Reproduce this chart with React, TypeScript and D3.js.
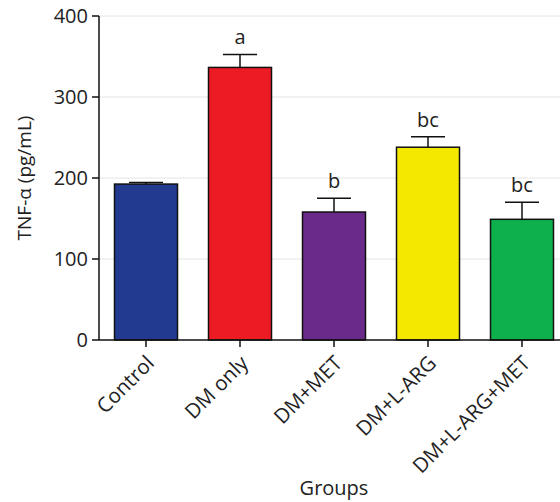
import React from "react";
import * as d3 from "d3";

const categories = ["Control", "DM only", "DM+MET", "DM+L-ARG", "DM+L-ARG+MET"];
const means = [192.5, 336.5, 158, 238, 149];
const errors = [2, 16, 17, 13, 21];
const letters = ["", "a", "b", "bc", "bc"];
const colors = ["#233a91", "#ed1c24", "#6a2a8a", "#f5e800", "#0db04b"];
const yTicks = [0, 100, 200, 300, 400];

const W = 560;
const H = 502;
const left = 99;
const right = 569;
const top = 16;
const bottom = 340;
const font = "'Open Sans', 'Noto Sans', sans-serif";

export default function App() {
  const x = d3.scalePoint<string>().domain(categories).range([left, right]).padding(0.5);
  const y = d3.scaleLinear().domain([0, 400]).range([bottom, top]);
  const bw = 63;
  const capW = 34;
  return (
    <svg width={W} height={H} style={{ position: "absolute", left: 0, top: 0 }} fontFamily={font}>
      {yTicks.slice(1).map((t) => (
        <line key={"g" + t} x1={left} x2={W} y1={y(t)} y2={y(t)} stroke="#e4e4e4" strokeWidth={1} />
      ))}
      {categories.map((c, i) => {
        const cx = x(c)!;
        const yt = y(means[i]);
        const ye = y(means[i] + errors[i]);
        return (
          <g key={c}>
            <line x1={cx} x2={cx} y1={yt} y2={ye} stroke="#111" strokeWidth={1.5} />
            <line x1={cx - capW / 2} x2={cx + capW / 2} y1={ye} y2={ye} stroke="#111" strokeWidth={1.5} />
            <rect x={cx - bw / 2} y={yt} width={bw} height={bottom - yt} fill={colors[i]} stroke="#111" strokeWidth={1.5} />
            {letters[i] && (
              <text x={cx} y={ye - 10} textAnchor="middle" fontSize={20} fill="#222">
                {letters[i]}
              </text>
            )}
          </g>
        );
      })}
      <line x1={left} x2={left} y1={top} y2={bottom} stroke="#111" strokeWidth={1.5} />
      <line x1={left} x2={W} y1={bottom} y2={bottom} stroke="#111" strokeWidth={1.5} />
      {yTicks.map((t) => (
        <g key={"t" + t}>
          <line x1={left - 7} x2={left} y1={y(t)} y2={y(t)} stroke="#111" strokeWidth={1.5} />
          <text x={left - 11} y={y(t)} dy="0.36em" textAnchor="end" fontSize={20} fill="#222">
            {t}
          </text>
        </g>
      ))}
      {categories.map((c) => {
        const cx = x(c)!;
        return (
          <g key={"x" + c}>
            <line x1={cx} x2={cx} y1={bottom} y2={bottom + 7} stroke="#111" strokeWidth={1.5} />
            <text
              transform={`translate(${cx - 1},${bottom + 14}) rotate(-45)`}
              textAnchor="end"
              dy="0.72em"
              fontSize={20.5}
              fill="#222"
            >
              {c}
            </text>
          </g>
        );
      })}
      <text transform={`translate(31,${(top + bottom) / 2}) rotate(-90)`} textAnchor="middle" fontSize={19} fill="#222">
        TNF-α (pg/mL)
      </text>
      <text x={(left + right) / 2} y={495} textAnchor="middle" fontSize={20} fill="#222">
        Groups
      </text>
    </svg>
  );
}
